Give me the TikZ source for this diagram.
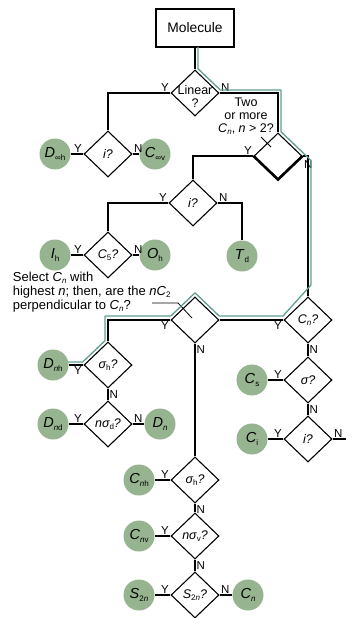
\documentclass[tikz,border=0pt]{standalone}
\usepackage{fontspec}
\setmainfont{Liberation Sans}
\usetikzlibrary{positioning,shapes.geometric}
\definecolor{grpgreen}{RGB}{150,180,143}
\definecolor{routeteal}{RGB}{96,158,148}
\newcommand{\grp}[2]{\textit{#1}\raisebox{-.35ex}{\fontsize{8}{8}\selectfont #2}}
\newcommand{\qsub}[1]{\raisebox{-.35ex}{\fontsize{8}{8}\selectfont\upshape #1}}

\begin{document}
\begin{tikzpicture}[x=1pt,y=-1pt,line width=1.1pt,font=\fontsize{12.5}{13}\selectfont,
    qbox/.style={draw,diamond,minimum width=48pt,minimum height=46pt,inner sep=0pt,font=\fontsize{12.5}{13}\selectfont\itshape},
    symgrp/.style={circle,fill=grpgreen,minimum size=31pt,inner sep=0pt,font=\fontsize{14.5}{16}\selectfont},
    yn/.style={inner sep=1pt,font=\fontsize{11.5}{12}\selectfont},
    route/.style={routeteal,line width=1.3pt,line join=round}]
  \useasboundingbox (0,0) rectangle (356,618);

  \node[draw,minimum width=78pt,minimum height=38pt,font=\fontsize{13.8}{15}\selectfont] (mol) at (195,28) {Molecule};
  \node[qbox,label={[font=\fontsize{12.5}{13}\selectfont,align=center,yshift=-3pt]center:Linear\\?}] (lin) at (195,93) {};
  \node[qbox] (iA) at (108,154) {i?};
  \node[symgrp] (dinfh) at (55,154) {\grp{D}{∞h}};
  \node[symgrp] (cinfv) at (155,154) {\grp{C}{∞v}};
  \node[qbox] (cn2) at (278,156) {};
  \node[align=center] (cn2txt) at (246,116) {Two\\or more\\\textit{C}\qsub{\itshape n}, \textit{n} > 2?};
  \node[qbox] (iB) at (193,203) {i?};
  \node[qbox] (c5) at (108,255) {C\qsub{5}?};
  \node[symgrp] (ih) at (55,255) {\grp{I}{h}};
  \node[symgrp] (oh) at (155,255) {\grp{O}{h}};
  \node[symgrp] (td) at (242,256) {\grp{T}{d}};
  \node[anchor=north west,align=left,font=\fontsize{13}{14}\selectfont] (seltxt) at (9,268)
    {Select \textit{C}\qsub{\itshape n} with\\highest \textit{n}; then, are the \textit{nC}\qsub{2}\\perpendicular to \textit{C}\qsub{\itshape n}?};
  \node[qbox] (sel) at (195,320) {};
  \node[qbox] (cnq) at (308,320) {C\qsub{\itshape n}?};
  \node[qbox] (sh1) at (108,365) {σ\qsub{h}?};
  \node[symgrp] (dnh) at (53,365) {\grp{D}{\textit{n}h}};
  \node[qbox] (nsd) at (108,424) {nσ\qsub{d}?};
  \node[symgrp] (dnd) at (53,424) {\grp{D}{\textit{n}d}};
  \node[symgrp] (dn) at (160,424) {\grp{D}{\textit{n}}};
  \node[qbox] (sig) at (308,380) {σ?};
  \node[symgrp] (cs) at (252,380) {\grp{C}{s}};
  \node[qbox] (iC) at (308,439) {i?};
  \node[symgrp] (ci) at (252,439) {\grp{C}{i}};
  \coordinate (iCend) at (346,439);
  \node[qbox] (sh2) at (195,480) {σ\qsub{h}?};
  \node[symgrp] (cnh) at (139,480) {\grp{C}{\textit{n}h}};
  \node[qbox] (nsv) at (195,536) {nσ\qsub{v}?};
  \node[symgrp] (cnv) at (139,536) {\grp{C}{\textit{n}v}};
  \node[qbox] (s2n) at (195,595) {S\qsub{2\itshape n}?};
  \node[symgrp] (s2c) at (139,595) {\grp{S}{2\textit{n}}};
  \node[symgrp] (cn) at (248,595) {\grp{C}{\textit{n}}};

  \draw (mol.south) -- (lin.north);
  \draw (lin.west) -| (iA.north) node[pos=0,yn,above left] {Y};
  \draw (lin.east) -| (cn2.north) node[pos=0,yn,above right] {N};
  \draw (iA.west) -- (dinfh) node[pos=0,yn,above left] {Y};
  \draw (iA.east) -- (cinfv) node[pos=0,yn,above right] {N};
  \draw (cn2.west) -| (iB.north) node[pos=0,yn,above left] {Y};
  \draw (cn2.east) -| (cnq.north) node[pos=0,yn,below right,yshift=-3pt] {N};
  \draw (iB.west) -| (c5.north) node[pos=0,yn,above left] {Y};
  \draw (iB.east) -| (td.north) node[pos=0,yn,above right] {N};
  \draw (c5.west) -- (ih) node[pos=0,yn,above left] {Y};
  \draw (c5.east) -- (oh) node[pos=0,yn,above right] {N};
  \draw (cnq.west) -- (sel.east) node[pos=0,yn,below left] {Y};
  \draw (sel.west) -| (sh1.north) node[pos=0,yn,below left] {Y};
  \draw (sh1.west) -- (dnh) node[pos=0,yn,below left] {Y};
  \draw (sh1.south) -- (nsd.north) node[pos=0,yn,below right] {N};
  \draw (nsd.west) -- (dnd) node[pos=0,yn,above left] {Y};
  \draw (nsd.east) -- (dn) node[pos=0,yn,above right] {N};
  \draw (cnq.south) -- (sig.north) node[pos=0,yn,below right] {N};
  \draw (sig.west) -- (cs) node[pos=0,yn,above left] {Y};
  \draw (sig.south) -- (iC.north) node[pos=0,yn,below right] {N};
  \draw (iC.west) -- (ci) node[pos=0,yn,above left] {Y};
  \draw (iC.east) -- (iCend) node[pos=0,yn,above right] {N};
  \draw (sel.south) -- (sh2.north) node[pos=0,yn,below right] {N};
  \draw (sh2.west) -- (cnh) node[pos=0,yn,above left] {Y};
  \draw (sh2.south) -- (nsv.north) node[pos=0,yn,below right] {N};
  \draw (nsv.west) -- (cnv) node[pos=0,yn,above left] {Y};
  \draw (nsv.south) -- (s2n.north) node[pos=0,yn,below right] {N};
  \draw (s2n.west) -- (s2c) node[pos=0,yn,above left] {Y};
  \draw (s2n.east) -- (cn) node[pos=0,yn,above right] {N};

  \draw[line width=2.6pt] (cn2.west) -- (cn2.south) -- (cn2.east);
  \coordinate (tickA) at (261,137); \coordinate (tickB) at (271,147);
  \draw[line width=.8pt] (tickA) -- (tickB);
  \coordinate (leadA) at (152,303);
  \draw[line width=.8pt] (leadA) -- (178,303) -- (192,318);

  \draw[route] (198,47) -- (198,68.7) -- (220.3,90) -- (281,90) -- (281,131.7) -- (311,160.4)
    -- (311,285) -- (283,316) -- (219.2,316) -- (195,292.8) -- (170.8,316) -- (105,316)
    -- (105,340.7) -- (82.7,362) -- (68,362);
\end{tikzpicture}
\end{document}
